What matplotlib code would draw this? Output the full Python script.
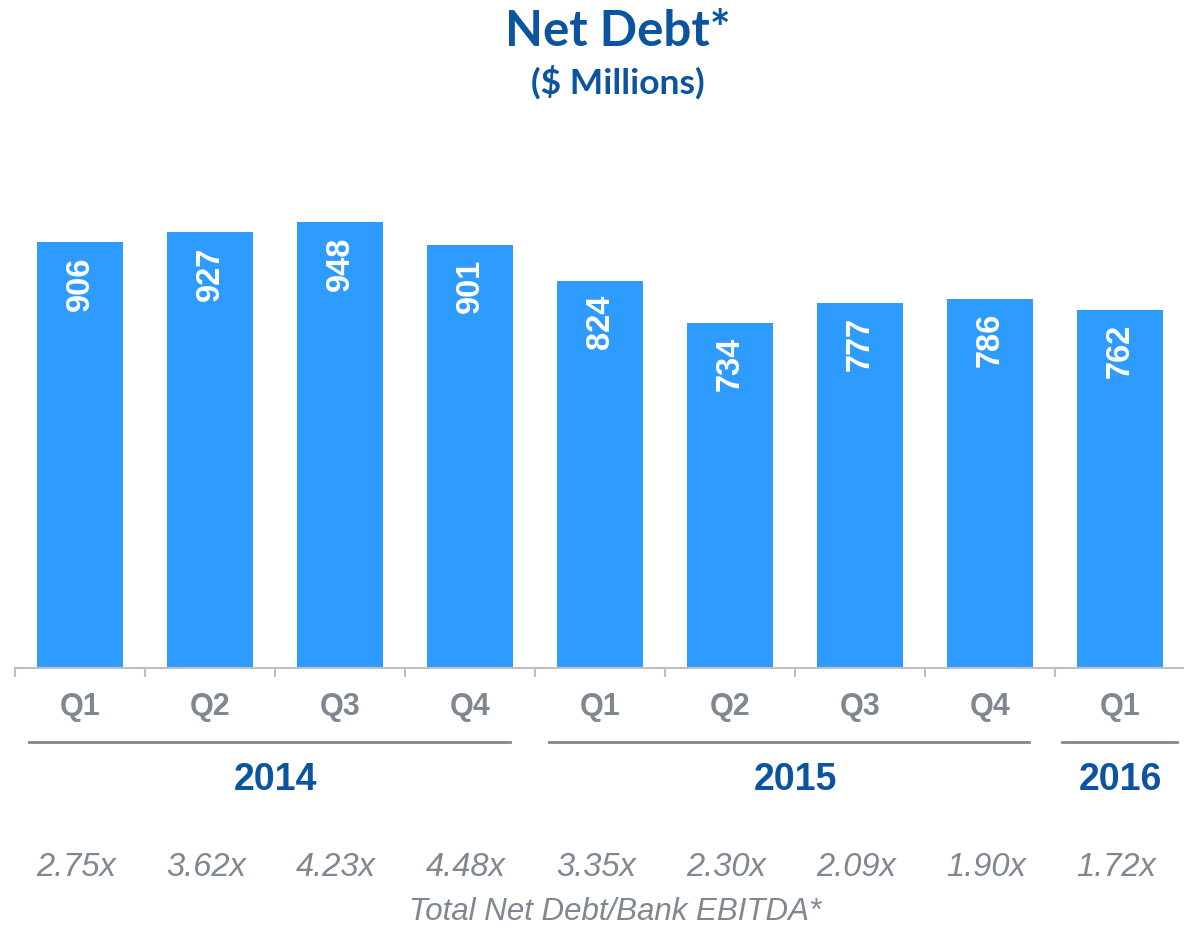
import numpy as np
import matplotlib
matplotlib.use('Agg')
import matplotlib.pyplot as plt

quarters = ['Q1', 'Q2', 'Q3', 'Q4', 'Q1', 'Q2', 'Q3', 'Q4', 'Q1']
net_debt = [906, 927, 948, 901, 824, 734, 777, 786, 762]
ratios = ['2.75x', '3.62x', '4.23x', '4.48x', '3.35x', '2.30x', '2.09x', '1.90x', '1.72x']
years = ['2014', '2015', '2016']
year_span = [(0, 3), (4, 7), (8, 8)]  # first and last quarter index of each year

bar_col = '#2E9BFF'
blue = '#0B54A0'
grey = '#7F8890'

# how far each year underline sticks out past its bars (left, right)
line_pad = [(0.39, 0.31), (0.39, 0.30), (0.45, 0.44)]

W, H = 1184, 927
fig = plt.figure(figsize=(W/100, H/100), dpi=100)

# axes placed in pixels: baseline at y=668, left tick at x=15
base = 668
hpx = 470
ax = fig.add_axes([15/W, (H-base)/H, (W-15)/W, hpx/H])

def yf(px):
    # figure pixel row -> axes fraction
    return (base - px)/hpx

x = np.arange(len(net_debt))
ax.bar(x, net_debt, width=0.66, color=bar_col, zorder=2)
ax.set_xlim(-0.5, 8.49)
ax.set_ylim(0, 1000)

for s in ['top', 'left', 'right']:
    ax.spines[s].set_visible(False)
ax.spines['bottom'].set_color('#BFBFBF')
ax.spines['bottom'].set_linewidth(1.5)
ax.set_yticks([])
ax.set_xticks(np.arange(-0.5, 8, 1.0))
ax.set_xticklabels([])
ax.tick_params(axis='x', length=6.5, width=1.5, color='#BFBFBF')

tr = ax.get_xaxis_transform()

for i, v in enumerate(net_debt):
    ax.text(i, v - 30, str(v), rotation=90, ha='center', va='top',
            color='white', fontsize=23.5, fontweight='bold', family='Liberation Sans')
    ax.text(i, yf(707), quarters[i], transform=tr, ha='center', va='center',
            color=grey, fontsize=22, fontweight='bold', family='Liberation Sans')
    ax.text(i - 0.03, yf(867), ratios[i], transform=tr, ha='center', va='center',
            color=grey, fontsize=23.5, style='italic', family='Liberation Sans')

for yr, (a, b), (pl, pr) in zip(years, year_span, line_pad):
    ax.plot([a - pl, b + pr], [yf(742), yf(742)], transform=tr,
            color=grey, lw=2, clip_on=False)
    ax.text((a + b)/2, yf(780), yr, transform=tr, ha='center', va='center',
            color=blue, fontsize=27, fontweight='bold', family='Liberation Sans')

ax.text(4.115, yf(912), 'Total Net Debt/Bank EBITDA*', transform=tr, ha='center',
        va='center', color=grey, fontsize=22.5, style='italic', family='Liberation Sans')

fig.text(618/W, 1 - 31/H, 'Net Debt*', ha='center', va='center', color=blue,
         fontsize=35.5, fontweight='bold', family='Lato')
fig.text(618/W, 1 - 82/H, '($ Millions)', ha='center', va='center', color=blue,
         fontsize=25.5, fontweight='bold', family='Lato')

fig.savefig('out.png', dpi=100)
